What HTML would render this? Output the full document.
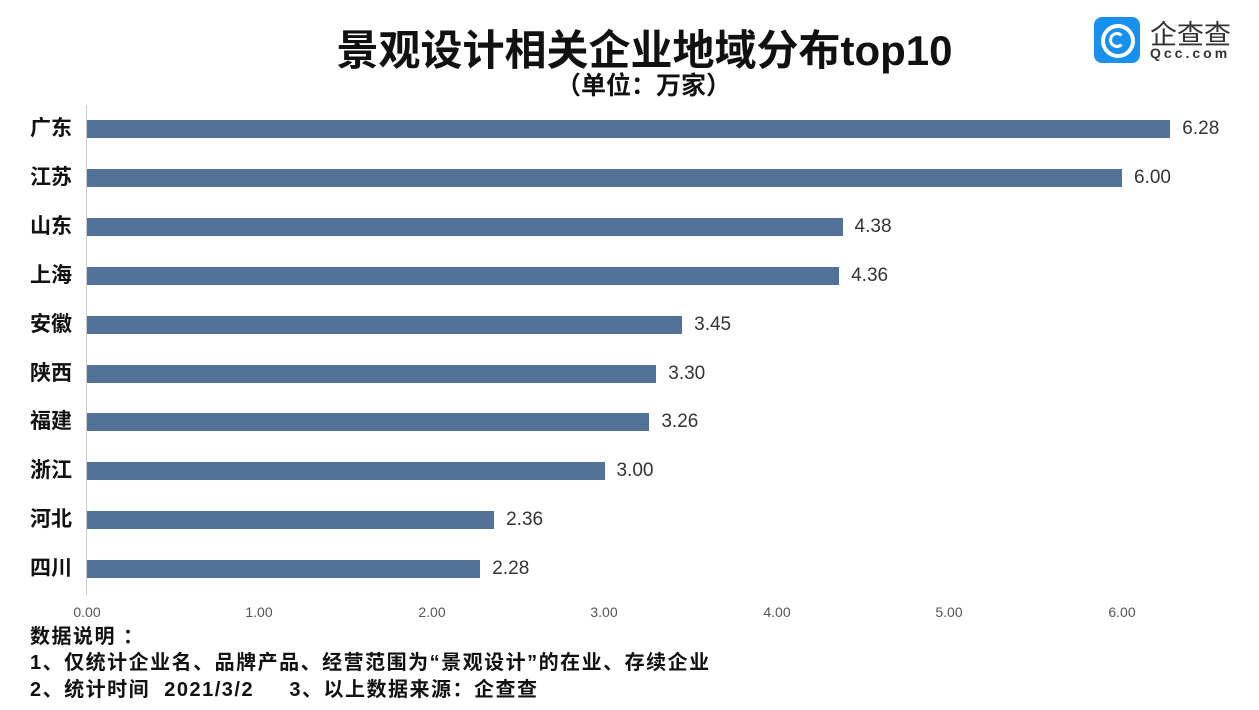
<!DOCTYPE html>
<html><head><meta charset="utf-8"><style>
body{margin:0;width:1259px;height:710px;background:#fff;overflow:hidden;position:relative;font-family:"Liberation Sans","Noto Sans CJK SC",sans-serif}
.a{position:absolute;white-space:nowrap}
.t{left:0;width:1259px;text-align:center;font-weight:bold;color:#111}
.bar{position:absolute;left:87px;height:18px;background:#53729a}
.lab{position:absolute;left:30px;font-size:21px;font-weight:bold;color:#111;line-height:24px}
.val{position:absolute;font-size:19px;color:#333;line-height:22px}
.tk{position:absolute;top:604px;font-size:14px;color:#555;width:60px;margin-left:-30px;text-align:center}
.n{left:30px;font-size:20px;font-weight:bold;color:#111;letter-spacing:1.5px}
</style></head><body>
<div class="a t" style="top:17px;font-size:42px;left:15px">景观设计相关企业地域分布top10</div>
<div class="a t" style="top:66px;font-size:25px;left:14px">（单位：万家）</div>
<div class="a" style="left:1094px;top:17px;width:46px;height:46px;border-radius:8px;background:#1890f0"></div>
<div class="a" style="left:1101px;top:24px;width:26px;height:26px;border:4px solid #fff;border-radius:50%"></div>
<div class="a" style="left:1109px;top:32px;width:10px;height:10px;border:3px solid #fff;border-radius:50%;border-right-color:#1890f0"></div>
<div class="a" style="left:1150px;top:13px;font-size:27px;color:#333">企查查</div>
<div class="a" style="left:1150px;top:45px;font-size:14px;color:#333;letter-spacing:3px;font-weight:bold">Qcc.com</div>
<div class="a" style="left:86px;top:105px;width:1px;height:490px;background:#ccc"></div>
<div id="c"></div>
<div class="tk" style="left:87px">0.00</div>
<div class="tk" style="left:259px">1.00</div>
<div class="tk" style="left:432px">2.00</div>
<div class="tk" style="left:604px">3.00</div>
<div class="tk" style="left:777px">4.00</div>
<div class="tk" style="left:949px">5.00</div>
<div class="tk" style="left:1122px">6.00</div>
<div class="a n" style="top:620px">数据说明 ：</div>
<div class="a n" style="top:646px">1、仅统计企业名、品牌产品、经营范围为“景观设计”的在业、存续企业</div>
<div class="a n" style="top:673px">2、统计时间 &nbsp;2021/3/2 &nbsp; &nbsp; 3、以上数据来源：企查查</div>
<script>
var d=[["广东",6.28],["江苏",6.00],["山东",4.38],["上海",4.36],["安徽",3.45],["陕西",3.30],["福建",3.26],["浙江",3.00],["河北",2.36],["四川",2.28]];
var h="";d.forEach(function(r,i){var y=129+i*48.9;var w=r[1]*172.5;
h+='<div class="bar" style="top:'+(y-9)+'px;width:'+w+'px"></div>';
h+='<div class="lab" style="top:'+(y-12)+'px">'+r[0]+'</div>';
h+='<div class="val" style="top:'+(y-11)+'px;left:'+(87+w+12)+'px">'+r[1].toFixed(2)+'</div>';});
document.getElementById("c").innerHTML=h;
</script>
</body></html>
